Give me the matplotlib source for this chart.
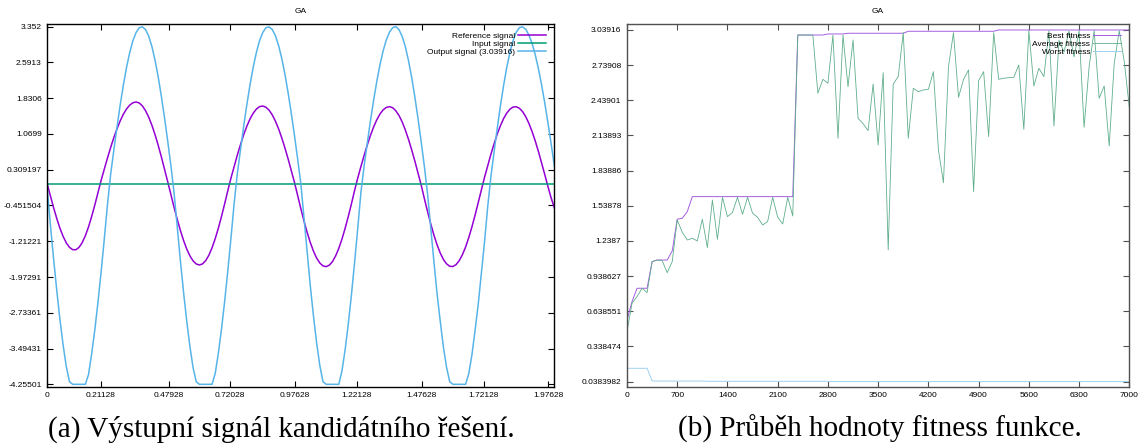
import numpy as np
import matplotlib
matplotlib.use("Agg")
import matplotlib.pyplot as plt

# ---------------- signal data (GA output) ----------------
t = np.linspace(0.0, 2.0, 161)

reference_signal = [
    0.000, -0.255, -0.502, -0.731, -0.937, -1.110, -1.247, -1.341, -1.391, -1.393,
    -1.343, -1.244, -1.096, -0.909, -0.686, -0.439, -0.173, 0.087, 0.327, 0.561,
    0.784, 0.993, 1.181, 1.348, 1.489, 1.602, 1.683, 1.733, 1.750, 1.729,
    1.668, 1.566, 1.428, 1.257, 1.055, 0.828, 0.582, 0.321, 0.054, -0.219,
    -0.489, -0.745, -0.982, -1.195, -1.377, -1.523, -1.629, -1.695, -1.717, -1.693,
    -1.623, -1.508, -1.350, -1.155, -0.929, -0.678, -0.408, -0.126, 0.141, 0.389,
    0.628, 0.852, 1.059, 1.240, 1.393, 1.513, 1.601, 1.652, 1.664, 1.639,
    1.575, 1.476, 1.342, 1.177, 0.985, 0.770, 0.538, 0.292, 0.041, -0.238,
    -0.515, -0.780, -1.023, -1.240, -1.423, -1.570, -1.675, -1.737, -1.752, -1.721,
    -1.645, -1.523, -1.362, -1.164, -0.935, -0.681, -0.410, -0.126, 0.139, 0.383,
    0.618, 0.840, 1.042, 1.222, 1.374, 1.496, 1.584, 1.635, 1.651, 1.628,
    1.562, 1.461, 1.324, 1.152, 0.954, 0.731, 0.491, 0.238, -0.020, -0.306,
    -0.580, -0.840, -1.078, -1.287, -1.462, -1.599, -1.693, -1.744, -1.750, -1.709,
    -1.625, -1.499, -1.336, -1.136, -0.908, -0.657, -0.389, -0.112, 0.152, 0.400,
    0.639, 0.863, 1.068, 1.246, 1.397, 1.514, 1.597, 1.643, 1.649, 1.616,
    1.545, 1.436, 1.293, 1.119, 0.918, 0.695, 0.454, 0.205, -0.050, -0.290,
    -0.500,
]

input_signal = [0.0] * 161

output_signal = [
    -0.100, -0.883, -1.596, -2.268, -2.884, -3.425, -3.882, -4.200, -4.255, -4.255,
    -4.255, -4.255, -4.255, -4.050, -3.607, -3.094, -2.502, -1.855, -1.154, -0.426,
    0.218, 0.729, 1.219, 1.686, 2.107, 2.484, 2.798, 3.050, 3.226, 3.328,
    3.350, 3.291, 3.151, 2.933, 2.640, 2.283, 1.869, 1.411, 0.917, 0.400,
    -0.177, -0.912, -1.624, -2.295, -2.909, -3.448, -3.900, -4.200, -4.255, -4.255,
    -4.255, -4.255, -4.255, -4.020, -3.585, -3.066, -2.472, -1.817, -1.117, -0.384,
    0.247, 0.754, 1.247, 1.706, 2.126, 2.497, 2.808, 3.057, 3.230, 3.329,
    3.348, 3.292, 3.158, 2.950, 2.674, 2.340, 1.944, 1.508, 1.040, 0.540,
    0.020, -0.713, -1.457, -2.160, -2.805, -3.377, -3.854, -4.200, -4.255, -4.255,
    -4.255, -4.255, -4.255, -3.966, -3.514, -2.964, -2.339, -1.645, -0.918, -0.152,
    0.399, 0.887, 1.357, 1.795, 2.194, 2.547, 2.841, 3.074, 3.236, 3.331,
    3.352, 3.288, 3.143, 2.923, 2.627, 2.271, 1.853, 1.394, 0.897, 0.379,
    -0.205, -0.932, -1.637, -2.325, -2.909, -3.462, -3.893, -4.200, -4.255, -4.255,
    -4.255, -4.255, -4.255, -4.030, -3.631, -3.108, -2.548, -1.878, -1.214, -0.466,
    0.168, 0.690, 1.193, 1.669, 2.103, 2.487, 2.806, 3.060, 3.235, 3.332,
    3.348, 3.295, 3.172, 2.993, 2.750, 2.457, 2.111, 1.726, 1.305, 0.861,
    0.400,
]

sig_xticks = [0, 0.21128, 0.47928, 0.72028, 0.97628, 1.22128, 1.47628, 1.72128, 1.97628]
sig_xlabels = ["0", "0.21128", "0.47928", "0.72028", "0.97628", "1.22128",
               "1.47628", "1.72128", "1.97628"]
sig_yticks = [3.352, 2.5913, 1.8306, 1.0699, 0.309197, -0.451504, -1.21221,
              -1.97291, -2.73361, -3.49431, -4.25501]

# ---------------- fitness data ----------------
generations = np.arange(0, 7001, 70)

best_fitness = [
    0.565, 0.721, 0.835, 0.835, 0.835, 1.062, 1.076, 1.076, 1.076, 1.153,
    1.424, 1.432, 1.489, 1.617, 1.617, 1.617, 1.617, 1.617, 1.617, 1.617,
    1.617, 1.617, 1.617, 1.617, 1.617, 1.617, 1.617, 1.617, 1.617, 1.617,
    1.617, 1.617, 1.617, 1.617, 2.996, 2.996, 2.996, 2.996, 2.996, 2.996,
    3.005, 3.005, 3.005, 3.005, 3.011, 3.011, 3.011, 3.011, 3.011, 3.011,
    3.011, 3.011, 3.011, 3.011, 3.011, 3.011, 3.028, 3.028, 3.028, 3.028,
    3.028, 3.028, 3.028, 3.028, 3.028, 3.028, 3.028, 3.028, 3.028, 3.028,
    3.028, 3.028, 3.028, 3.028, 3.039, 3.039, 3.039, 3.039, 3.039, 3.039,
    3.039, 3.039, 3.039, 3.039, 3.039, 3.039, 3.039, 3.039, 3.039, 3.039,
    3.039, 3.039, 3.039, 3.039, 3.039, 3.039, 3.039, 3.039, 3.039, 3.039,
    3.039,
]

average_fitness = [
    0.465, 0.707, 0.764, 0.835, 0.798, 1.062, 1.076, 1.071, 0.968, 1.062,
    1.418, 1.313, 1.247, 1.261, 1.239, 1.424, 1.182, 1.588, 1.253, 1.611,
    1.446, 1.483, 1.611, 1.466, 1.611, 1.475, 1.441, 1.375, 1.404, 1.611,
    1.441, 1.384, 1.611, 1.452, 2.996, 2.996, 2.996, 2.996, 2.499, 2.618,
    2.584, 2.996, 2.115, 2.996, 2.555, 2.954, 2.285, 2.240, 2.180, 2.578,
    2.058, 2.675, 1.162, 2.578, 2.641, 3.016, 2.115, 2.541, 2.513, 2.527,
    2.533, 2.683, 2.015, 1.736, 2.726, 3.016, 2.464, 2.618, 2.698, 1.660,
    2.607, 2.683, 2.129, 3.016, 2.618, 2.627, 2.632, 2.635, 2.740, 2.191,
    3.033, 2.561, 2.712, 2.641, 3.033, 2.220, 2.950, 2.850, 3.030, 2.810,
    3.030, 2.209, 2.726, 3.033, 2.456, 2.561, 2.049, 2.755, 3.033, 2.769,
    2.379,
]

worst_fitness = [
    0.152, 0.152, 0.152, 0.152, 0.152, 0.045, 0.043, 0.043, 0.043, 0.043,
    0.043, 0.043, 0.043, 0.043, 0.043, 0.043, 0.041, 0.041, 0.041, 0.041,
    0.041, 0.041, 0.041, 0.041, 0.041, 0.041, 0.041, 0.041, 0.041, 0.041,
    0.041, 0.041, 0.041, 0.041, 0.041, 0.041, 0.041, 0.041, 0.041, 0.041,
    0.041, 0.0384, 0.0384, 0.0384, 0.0384, 0.0384, 0.0384, 0.0384, 0.0384, 0.0384,
    0.0384, 0.0384, 0.0384, 0.0384, 0.0384, 0.0384, 0.0384, 0.0384, 0.0384, 0.0384,
    0.0384, 0.0384, 0.0384, 0.0384, 0.0384, 0.0384, 0.0384, 0.0384, 0.0384, 0.0384,
    0.0384, 0.0384, 0.0384, 0.0384, 0.0384, 0.0384, 0.0384, 0.0384, 0.0384, 0.0384,
    0.0384, 0.0384, 0.0384, 0.0384, 0.0384, 0.0384, 0.0384, 0.0384, 0.0384, 0.0384,
    0.0384, 0.0384, 0.0384, 0.0384, 0.0384, 0.0384, 0.0384, 0.0384, 0.0384, 0.0384,
    0.0384,
]

fit_xticks = [0, 700, 1400, 2100, 2800, 3500, 4200, 4900, 5600, 6300, 7000]
fit_yticks = [3.03916, 2.73908, 2.43901, 2.13893, 1.83886, 1.53878, 1.2387,
              0.938627, 0.638551, 0.338474, 0.0383982]
fit_ylabels = ["3.03916", "2.73908", "2.43901", "2.13893", "1.83886", "1.53878",
               "1.2387", "0.938627", "0.638551", "0.338474", "0.0383982"]

PURPLE = "#9400d3"
GREEN = "#009e73"
BLUE = "#56b4e9"

plt.rcParams["font.family"] = ["Liberation Sans", "DejaVu Sans"]

fig = plt.figure(figsize=(11.38, 4.48), dpi=100)
W, H = 1138.0, 448.0


def frame(ax, color):
    for s in ax.spines.values():
        s.set_color(color)
        s.set_linewidth(1.0)
    ax.tick_params(direction="in", length=4, width=0.8, color=color,
                   top=True, right=True, labelsize=6, pad=4)


def key(ax):
    # gnuplot style key: text right aligned, sample line after it
    ax.legend(loc="upper right", markerfirst=False, frameon=False, fontsize=6,
              handlelength=3.3, handletextpad=0.4, labelspacing=0.0,
              borderpad=0.3, borderaxespad=0.7)


#--------------- (a) signals ---------------#
ax1 = fig.add_axes([47.3 / W, 1 - 386.7 / H, 507 / W, 362.7 / H])
ax1.plot(t, reference_signal, color=PURPLE, lw=1.1, label="Reference signal")
ax1.plot(t, input_signal, color=GREEN, lw=1.1, label="Input signal")
ax1.plot(t, output_signal, color=BLUE, lw=1.1, label="Output signal (3.03916)")
ax1.set_xlim(0, 2.0)
ax1.set_ylim(-4.306, 3.409)
ax1.set_xticks(sig_xticks)
ax1.set_xticklabels(sig_xlabels)
ax1.set_yticks(sig_yticks)
ax1.set_yticklabels([f"{v:g}" for v in sig_yticks])
frame(ax1, "black")
ax1.set_title("GA", fontsize=6, pad=8)
key(ax1)

#--------------- (b) fitness ---------------#
ax2 = fig.add_axes([627 / W, 1 - 386.7 / H, 502.3 / W, 362.7 / H])
ax2.plot(generations, best_fitness, color="#a35ee0", lw=0.7, label="Best fitness")
ax2.plot(generations, average_fitness, color="#5fae8c", lw=0.6, label="Average fitness")
ax2.plot(generations, worst_fitness, color="#9fd0f0", lw=0.7, label="Worst fitness")
ax2.set_xlim(0, 7000)
ax2.set_ylim(-0.005, 3.090)
ax2.set_xticks(fit_xticks)
ax2.set_yticks(fit_yticks)
ax2.set_yticklabels(fit_ylabels)
frame(ax2, "#505050")
ax2.set_title("GA", fontsize=6, pad=8)
key(ax2)

# captions under the plots
cap = dict(fontsize=21, ha="center", va="center",
           family=["Liberation Serif", "DejaVu Serif"])
fig.text(281 / W, 1 - 429 / H, "(a) Výstupní signál kandidátního řešení.", **cap)
fig.text(880 / W, 1 - 429 / H, "(b) Průběh hodnoty fitness funkce.", **cap)

fig.savefig("out.png", dpi=100, facecolor="white")
